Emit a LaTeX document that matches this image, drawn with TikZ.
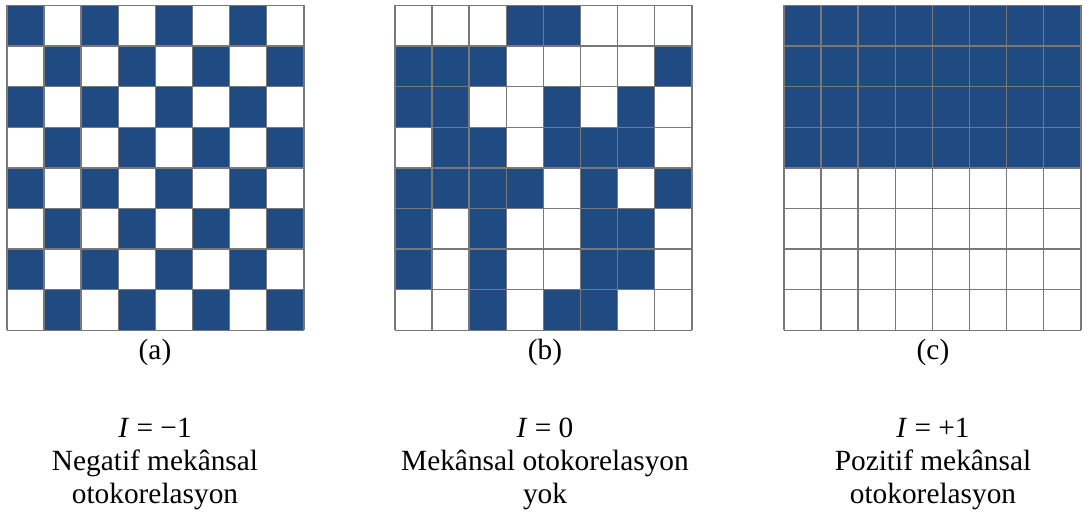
\documentclass[tikz,border=0pt]{standalone}
\usepackage{fontspec}
\setmainfont{Liberation Serif}
\usetikzlibrary{positioning}

\definecolor{cellblue}{RGB}{31,74,130}
\definecolor{linegray}{RGB}{120,120,120}

\newcommand{\cellw}{37.1}
\newcommand{\cellh}{40.6}
\newcommand{\gridtop}{5.5}

% one 8x8 panel: #1 left edge, #2 rows of 0/1 (1 = blue)
\newcommand{\moranpanel}[2]{%
  \foreach \row [count=\r] in {#2} {
    \foreach \v [count=\c] in \row {
      \ifnum\v=1
        \fill[cellblue] ({#1+(\c-1)*\cellw},{\gridtop+(\r-1)*\cellh}) rectangle ++(\cellw,\cellh);
      \fi
    }
  }
  \foreach \k in {0,...,8} {
    \draw[gridline] ({#1+\k*\cellw},\gridtop) -- ++(0,8*\cellh);
    \draw[gridline] (#1,{\gridtop+\k*\cellh}) -- ++(8*\cellw,0);
  }
}

\begin{document}
\begin{tikzpicture}[
  x=0.75pt, y=-0.75pt,
  gridline/.style={draw=linegray, line width=1.1pt},
  caption/.style={font=\fontsize{22}{24.75}\selectfont, inner sep=0pt, anchor=base},
  desc/.style={font=\fontsize{22}{24.75}\selectfont, align=center, inner sep=0pt, anchor=north}
]
\useasboundingbox (0,0) rectangle (1083,520);

% (a) checkerboard
\moranpanel{7}{{1,0,1,0,1,0,1,0},{0,1,0,1,0,1,0,1},{1,0,1,0,1,0,1,0},{0,1,0,1,0,1,0,1},
  {1,0,1,0,1,0,1,0},{0,1,0,1,0,1,0,1},{1,0,1,0,1,0,1,0},{0,1,0,1,0,1,0,1}}

% (b) random
\moranpanel{395}{{0,0,0,1,1,0,0,0},{1,1,1,0,0,0,0,1},{1,1,0,0,1,0,1,0},{0,1,1,0,1,1,1,0},
  {1,1,1,1,0,1,0,1},{1,0,1,0,0,1,1,0},{1,0,1,0,0,1,1,0},{0,0,1,0,1,1,0,0}}

% (c) clustered
\moranpanel{784}{{1,1,1,1,1,1,1,1},{1,1,1,1,1,1,1,1},{1,1,1,1,1,1,1,1},{1,1,1,1,1,1,1,1},
  {0,0,0,0,0,0,0,0},{0,0,0,0,0,0,0,0},{0,0,0,0,0,0,0,0},{0,0,0,0,0,0,0,0}}

% captions
\node[caption] (capa) at (155,360) {(a)};
\node[caption] (capb) at (545,360) {(b)};
\node[caption] (capc) at (933,360) {(c)};

% descriptions
\node[desc] (desca) at (155,418) {\textit{I} = −1\\Negatif mekânsal\\otokorelasyon};
\node[desc] (descb) at (545,418) {\textit{I} = 0\\Mekânsal otokorelasyon\\yok};
\node[desc] (descc) at (933,418) {\textit{I} = +1\\Pozitif mekânsal\\otokorelasyon};

\end{tikzpicture}
\end{document}
